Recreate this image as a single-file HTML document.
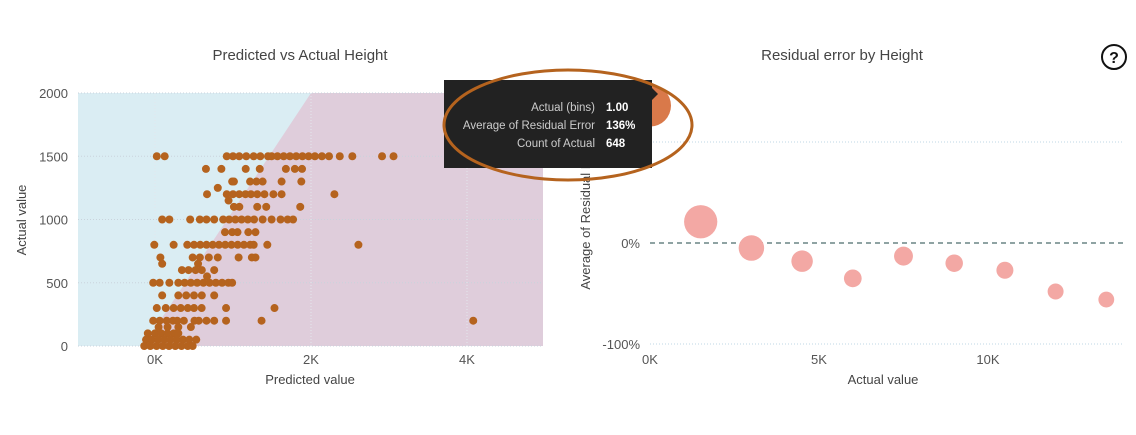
<!DOCTYPE html>
<html><head><meta charset="utf-8">
<style>
body{margin:0;background:#fff;width:1136px;height:430px;overflow:hidden;font-family:"Segoe UI","Liberation Sans",sans-serif;}
svg text{font-family:"Liberation Sans",sans-serif;}
</style></head>
<body>
<svg id="root" width="1136" height="430" viewBox="0 0 1136 430"></svg>
<script>
// ---- Left chart data (predicted, actual) ----
const actualRows = [1500,1400,1300,1250,1200,1150,1100,1000,900,800,700,650,600,550,500,400,300,200,150,100,50,0];
const predictedByRow = [
 [23,124,920,1000,1080,1170,1265,1350,1449,1495,1570,1650,1730,1810,1890,1970,2050,2140,2231,2369,2530,2911,3058],
 [653,851,1163,1343,1678,1793,1885],
 [989,1012,1219,1300,1380,1623,1876],
 [805],
 [667,920,1000,1080,1160,1230,1311,1403,1518,1623,2300],
 [943],
 [1012,1081,1311,1426,1862],
 [92,184,451,575,660,759,874,950,1030,1110,1190,1270,1380,1495,1610,1700,1770],
 [897,990,1058,1196,1288],
 [-9,239,414,500,580,660,740,820,900,980,1060,1140,1220,1265,1440,2608],
 [69,483,575,690,805,1072,1242,1288],
 [92,552],
 [345,430,520,600,759],
 [667],
 [-23,60,184,299,380,460,540,620,700,780,860,940,989],
 [92,299,400,500,600,759],
 [23,138,239,330,420,500,598,911,1532],
 [-23,60,150,230,285,370,506,561,660,759,911,1366,4080],
 [46,161,299,460],
 [-92,0,80,160,240,299],
 [-115,-40,40,120,200,280,360,440,529],
 [-138,-60,20,100,180,260,340,420,483]
];
const leftXTicks = [0,2000,4000];
const leftXTickLabels = ["0K","2K","4K"];
const leftYTicks = [0,500,1000,1500,2000];
// ---- Right chart data ----
const binX = [0,1500,3000,4500,6000,7500,9000,10500,12000,13500];
const binErr = [136,21,-5,-18,-35,-13,-20,-27,-48,-56];
const binCount = [648,260,150,105,70,80,68,64,56,55];
const rightXTicks = [0,5000,10000];
const rightXTickLabels = ["0K","5K","10K"];
const rightYTicks = [100,0,-100];
const rightYTickLabels = ["","0%","-100%"];

const NS="http://www.w3.org/2000/svg";
const root=document.getElementById('root');
function mk(tag,attrs,parent,text){const e=document.createElementNS(NS,tag);for(const k in attrs)e.setAttribute(k,attrs[k]);if(text!==undefined)e.textContent=text;(parent||root).appendChild(e);return e;}

const lx=v=>155+v*0.078;
const ly=v=>346-v*0.1265;
const rx=v=>650+v*0.0338;
const ry=v=>243-v*1.01;

let t=mk('text',{x:300,y:60,'text-anchor':'middle','font-size':15,fill:'#444'},root,'Predicted vs Actual Height');


t=mk('text',{x:842,y:60,'text-anchor':'middle','font-size':15,fill:'#444'},root,'Residual error by Height');


let hg=mk('g',{});


mk('circle',{cx:1114,cy:57,r:12,fill:'none',stroke:'#111','stroke-width':2},hg);
mk('text',{x:1114,y:63,'text-anchor':'middle','font-size':16,'font-weight':'bold',fill:'#111'},hg,'?');

let bg=mk('rect',{x:78,y:93,width:465,height:253,fill:'#daedf3'});


let pk=mk('polygon',{points:`${lx(-150)},${ly(0)} ${lx(2000)},${ly(2000)} 543,93 543,346`,fill:'#dfcddb'});


leftYTicks.forEach(v=>{
 let g=mk('line',{x1:78,x2:543,y1:ly(v),y2:ly(v),stroke:'#c9d3dc','stroke-dasharray':'1,2'});
 
 
 let l=mk('text',{x:68,y:ly(v)+5,'text-anchor':'end','font-size':13,fill:'#555'},root,String(v));
 
 
});
leftXTicks.forEach((v,i)=>{
 let g=mk('line',{x1:lx(v),x2:lx(v),y1:93,y2:346,stroke:'#e3e8ee','stroke-dasharray':'1,2'});
 
 
 let l=mk('text',{x:lx(v),y:364,'text-anchor':'middle','font-size':13,fill:'#555'},root,leftXTickLabels[i]);
 
 
});
t=mk('text',{x:310,y:384,'text-anchor':'middle','font-size':13,fill:'#444'},root,'Predicted value');


t=mk('text',{x:26,y:220,'text-anchor':'middle','font-size':13,fill:'#444',transform:'rotate(-90 26 220)'},root,'Actual value');


actualRows.forEach((a,i)=>{
 predictedByRow[i].forEach(p=>{
  let c=mk('circle',{cx:lx(p),cy:ly(a),r:4,fill:'#b5631e'});
  
  
 });
});

rightYTicks.forEach((v,i)=>{
 let g;
 if(v===0){g=mk('line',{x1:650,x2:1124,y1:ry(v),y2:ry(v),stroke:'#8fa3a3','stroke-width':2,'stroke-dasharray':'5,4'});}
 else{g=mk('line',{x1:650,x2:1124,y1:ry(v),y2:ry(v),stroke:'#bfd7e6','stroke-dasharray':'1,2'});}
 
 if(rightYTickLabels[i]){
  let l=mk('text',{x:640,y:ry(v)+5,'text-anchor':'end','font-size':13,fill:'#555'},root,rightYTickLabels[i]);
  
  
 }
});
rightXTicks.forEach((v,i)=>{
 let l=mk('text',{x:rx(v),y:364,'text-anchor':'middle','font-size':13,fill:'#555'},root,rightXTickLabels[i]);
 
 
});
t=mk('text',{x:883,y:384,'text-anchor':'middle','font-size':13,fill:'#444'},root,'Actual value');


t=mk('text',{x:590,y:215,'text-anchor':'middle','font-size':13,fill:'#444',transform:'rotate(-90 590 215)'},root,'Average of Residual Error');


binX.forEach((x,i)=>{
 let r=Math.min(Math.sqrt(binCount[i])*1.0+0.5,21);
 let c=mk('circle',{cx:rx(x),cy:ry(binErr[i]),r:r,fill:i===0?'#d9794a':'#f3a8a4'});
 
 
});

let tg=mk('g',{});


mk('rect',{x:444,y:80,width:208,height:88,fill:'#222'},tg);
mk('polygon',{points:'652,88 658,94 652,100',fill:'#222'},tg);
const tipLabels=['Actual (bins)','Average of Residual Error','Count of Actual'];
const tipValues=['1.00','136%','648'];
tipLabels.forEach((s,i)=>{
 mk('text',{x:595,y:111+i*18,'text-anchor':'end','font-size':11.5,fill:'#ccc'},tg,s);
 mk('text',{x:606,y:111+i*18,'font-size':11.5,'font-weight':'bold',fill:'#fff'},tg,tipValues[i]);
});
let el=mk('ellipse',{cx:568,cy:125,rx:124,ry:55,fill:'none',stroke:'#b5631e','stroke-width':3});


</script>
</body></html>
